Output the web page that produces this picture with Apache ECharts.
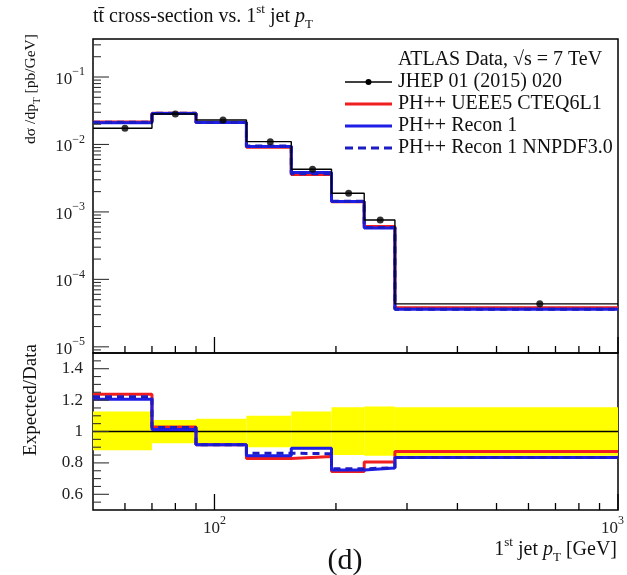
<!DOCTYPE html>
<html><head><meta charset="utf-8">
<script src="https://cdn.jsdelivr.net/npm/echarts@6/dist/echarts.min.js"></script>
<style>html,body{margin:0;padding:0;background:#fff}#c{width:627px;height:575px}</style>
</head><body><div id="c"></div>
<script>
// ---- data ----
const binEdges   = [50, 70, 90, 120, 155, 195, 235, 280, 1000];
const binCenters = [60, 80, 105, 137.5, 175, 215, 257.5, 640];
const dataValues = [0.0174, 0.0283, 0.0231, 0.0110, 0.00428, 0.00189, 0.00076, 4.34e-5];
const redValues  = [0.0215, 0.0291, 0.0211, 0.0091, 0.00360, 0.00141, 0.00061, 3.79e-5];
const blueValues = [0.0210, 0.0287, 0.0211, 0.0093, 0.00383, 0.00143, 0.00058, 3.62e-5];
const dashValues = [0.0213, 0.0290, 0.0211, 0.0095, 0.00367, 0.00144, 0.00059, 3.62e-5];
const redRatio   = [1.237, 1.028, 0.915, 0.828, 0.840, 0.746, 0.805, 0.873];
const blueRatio  = [1.206, 1.013, 0.915, 0.846, 0.894, 0.755, 0.767, 0.835];
const dashRatio  = [1.222, 1.025, 0.915, 0.862, 0.858, 0.762, 0.770, 0.835];
const bandLow    = [0.880, 0.925, 0.920, 0.900, 0.885, 0.850, 0.845, 0.845];
const bandHigh   = [1.127, 1.074, 1.081, 1.100, 1.127, 1.155, 1.159, 1.155];
const seriesNames = ['JHEP 01 (2015) 020', 'PH++ UEEE5 CTEQ6L1', 'PH++ Recon 1', 'PH++ Recon 1 NNPDF3.0'];
// ---- ticks ----
const xTickValues = [60, 70, 80, 90, 100, 200, 300, 400, 500, 600, 700, 800, 900, 1000];
const xLabelValues = [100, 1000];
const yLabelValues = [1e-5, 1e-4, 1e-3, 1e-2, 1e-1];
const yTickValues = [9e-6,
  1e-5,2e-5,3e-5,4e-5,5e-5,6e-5,7e-5,8e-5,9e-5,
  1e-4,2e-4,3e-4,4e-4,5e-4,6e-4,7e-4,8e-4,9e-4,
  1e-3,2e-3,3e-3,4e-3,5e-3,6e-3,7e-3,8e-3,9e-3,
  1e-2,2e-2,3e-2,4e-2,5e-2,6e-2,7e-2,8e-2,9e-2,
  1e-1,2e-1,3e-1];
const ratioTickValues = [0.55,0.6,0.65,0.7,0.75,0.8,0.85,0.9,0.95,1,1.05,1.1,1.15,1.2,1.25,1.3,1.35,1.4,1.45];
const ratioLabelValues = [0.6, 0.8, 1, 1.2, 1.4];

const SERIF = '"Liberation Serif","DejaVu Serif",serif';
const RED = '#f01e1e', BLUE = '#1e1ee6', DBLUE = '#1c1cc4';

function stepData(vals) {
  const out = vals.map((v, i) => [binEdges[i], v]);
  out.push([binEdges[binEdges.length - 1], vals[vals.length - 1]]);
  return out;
}
function isMajorLog(v) { const e = Math.log10(v); return Math.abs(e - Math.round(e)) < 1e-9; }
function isMajorRatio(v) { return Math.abs(v * 5 - Math.round(v * 5)) < 1e-9; }

function xTicks(gi, anchorY) {
  return {
    type: 'custom', xAxisIndex: gi, yAxisIndex: gi, silent: true, z: 20, clip: false,
    data: xTickValues.map(v => [v, anchorY]),
    renderItem: function (params, api) {
      const cs = params.coordSys;
      const v = api.value(0);
      const px = api.coord([v, anchorY])[0];
      const len = isMajorLog(v) ? 16 : 7;
      const yb = cs.y + cs.height;
      return { type: 'line', shape: { x1: px, y1: yb, x2: px, y2: yb - len }, style: { stroke: '#000', lineWidth: 1.3 } };
    }
  };
}
function yTicks(gi, anchorX, vals, majorFn) {
  return {
    type: 'custom', xAxisIndex: gi, yAxisIndex: gi, silent: true, z: 20, clip: false,
    data: vals.map(v => [anchorX, v]),
    renderItem: function (params, api) {
      const cs = params.coordSys;
      const v = api.value(1);
      const py = api.coord([anchorX, v])[1];
      const len = majorFn(v) ? 16 : 8;
      return { type: 'line', shape: { x1: cs.x, y1: py, x2: cs.x + len, y2: py }, style: { stroke: '#333', lineWidth: 1.1 } };
    }
  };
}
function stepLine(name, gi, vals, color, width, dashed, z) {
  return {
    name: name, type: 'line', xAxisIndex: gi, yAxisIndex: gi, step: 'end', showSymbol: false, symbol: 'none',
    data: stepData(vals), z: z,
    lineStyle: { color: color, width: width, type: dashed ? [7, 5] : 'solid' }
  };
}

const supRich = {
  base: { fontFamily: SERIF, fontSize: 17, color: '#222', verticalAlign: 'bottom', lineHeight: 22 },
  sup: { fontFamily: SERIF, fontSize: 12, color: '#222', verticalAlign: 'top', lineHeight: 22 },
  supEnd: { fontFamily: SERIF, fontSize: 12, color: '#222', verticalAlign: 'top', lineHeight: 22, padding: [0, 11, 0, 0] }
};
function expLabel(v) {
  const e = Math.round(Math.log10(v));
  return '{base|10}{sup|' + (e < 0 ? '\u2212' + (-e) : e) + '}';
}
function xExpLabel(v) {
  const e = Math.round(Math.log10(v));
  return '{base|10}{' + (v >= 1000 ? 'supEnd' : 'sup') + '|' + e + '}';
}

const chart = echarts.init(document.getElementById('c'), null, { renderer: 'canvas' });
const commonGrid = { left: 93, width: 525, show: true, borderColor: '#000', borderWidth: 1.5, backgroundColor: 'transparent',
  outerBoundsMode: 'none', containLabel: false };
const option = {
  animation: false,
  grid: [
    Object.assign({ top: 39, height: 314 }, commonGrid),
    Object.assign({ top: 353, height: 157 }, commonGrid)
  ],
  xAxis: [
    { gridIndex: 0, type: 'log', logBase: 10, min: 50, max: 1000,
      axisLine: { show: false }, axisTick: { show: false }, axisLabel: { show: false }, splitLine: { show: false } },
    { gridIndex: 1, type: 'log', logBase: 10, min: 50, max: 1000,
      axisLine: { show: false }, axisTick: { show: false }, splitLine: { show: false },
      axisLabel: { show: true, customValues: xLabelValues, formatter: xExpLabel, rich: supRich, margin: 5, showMaxLabel: true, showMinLabel: true } }
  ],
  yAxis: [
    { gridIndex: 0, type: 'log', logBase: 10, min: 8.1e-6, max: 0.366,
      axisLine: { show: false }, axisTick: { show: false }, splitLine: { show: false },
      axisLabel: { show: true, customValues: yLabelValues, formatter: expLabel, rich: supRich, margin: 8, showMaxLabel: true, showMinLabel: true } },
    { gridIndex: 1, type: 'value', min: 0.5, max: 1.5,
      axisLine: { show: false }, axisTick: { show: false }, splitLine: { show: false },
      axisLabel: { show: true, customValues: ratioLabelValues, margin: 10, fontFamily: SERIF, fontSize: 17, color: '#222',
        formatter: v => String(Math.round(v * 10) / 10) } }
  ],
  series: [
    // ratio band
    { type: 'custom', xAxisIndex: 1, yAxisIndex: 1, silent: true, z: 1,
      data: bandLow.map((lo, i) => [binEdges[i], binEdges[i + 1], lo, bandHigh[i]]),
      encode: { x: [0, 1], y: [2, 3] },
      renderItem: function (params, api) {
        const p0 = api.coord([api.value(0), api.value(3)]);
        const p1 = api.coord([api.value(1), api.value(2)]);
        return { type: 'rect', shape: { x: p0[0], y: p0[1], width: p1[0] - p0[0], height: p1[1] - p0[1] },
          style: { fill: '#ffff00' } };
      } },
    { type: 'line', xAxisIndex: 1, yAxisIndex: 1, showSymbol: false, symbol: 'none', z: 3,
      data: [[binEdges[0], 1], [binEdges[binEdges.length - 1], 1]], lineStyle: { color: '#000', width: 1.3 } },
    stepLine(seriesNames[1], 1, redRatio, RED, 3, false, 4),
    stepLine(seriesNames[2], 1, blueRatio, BLUE, 3, false, 5),
    stepLine(seriesNames[3], 1, dashRatio, DBLUE, 3, true, 6),
    // main panel
    stepLine(seriesNames[1], 0, redValues, RED, 3, false, 4),
    stepLine(seriesNames[2], 0, blueValues, BLUE, 3, false, 5),
    stepLine(seriesNames[3], 0, dashValues, DBLUE, 3, true, 6),
    stepLine(seriesNames[0], 0, dataValues, '#000', 1.4, false, 7),
    { name: seriesNames[0], type: 'scatter', xAxisIndex: 0, yAxisIndex: 0, z: 8, symbol: 'circle', symbolSize: 7,
      itemStyle: { color: '#000' }, data: binCenters.map((c, i) => [c, dataValues[i]]) },
    xTicks(0, 1e-3), xTicks(1, 1),
    yTicks(0, 100, yTickValues, isMajorLog),
    yTicks(1, 100, ratioTickValues, isMajorRatio)
  ],
  graphic: [
    { type: 'text', left: 93, top: 3, style: {
      text: 't{bar|t\u0304} cross-section vs. 1{sup|st} jet {it|p}{sub|T}',
      fontFamily: SERIF, fontSize: 20, fill: '#111',
      rich: { bar: { fontFamily: SERIF, fontSize: 20, fill: '#111' },
              sup: { fontFamily: SERIF, fontSize: 13, fill: '#111', verticalAlign: 'top', lineHeight: 24 },
              it: { fontFamily: SERIF, fontSize: 20, fontStyle: 'italic', fill: '#111' },
              sub: { fontFamily: SERIF, fontSize: 13, fill: '#111', verticalAlign: 'bottom', lineHeight: 28 } } } },
    // y axis titles
    { type: 'text', x: 31, y: 89, rotation: Math.PI / 2, style: {
      text: 'd\u03c3 /dp{sub|T} [pb/GeV]', fontFamily: SERIF, fontSize: 15.5, fill: '#111', align: 'center', verticalAlign: 'middle',
      rich: { sub: { fontFamily: SERIF, fontSize: 11, fill: '#111', verticalAlign: 'bottom', lineHeight: 24 } } } },
    { type: 'text', x: 31, y: 400, rotation: Math.PI / 2, style: {
      text: 'Expected/Data', fontFamily: SERIF, fontSize: 19, fill: '#111', align: 'center', verticalAlign: 'middle' } },
    // x axis title
    { type: 'text', right: 10, top: 536, style: {
      text: '1{sup|st} jet {it|p}{sub|T} [GeV]', fontFamily: SERIF, fontSize: 20, fill: '#111',
      rich: { sup: { fontFamily: SERIF, fontSize: 13, fill: '#111', verticalAlign: 'top', lineHeight: 24 },
              it: { fontFamily: SERIF, fontSize: 20, fontStyle: 'italic', fill: '#111' },
              sub: { fontFamily: SERIF, fontSize: 13, fill: '#111', verticalAlign: 'bottom', lineHeight: 28 } } } },
    { type: 'text', x: 345, y: 561, style: { text: '(d)', fontFamily: SERIF, fontSize: 30, fill: '#111', align: 'center', verticalAlign: 'middle' } },
    // legend
    { type: 'text', x: 398, y: 60, style: { text: 'ATLAS Data, \u221As = 7 TeV', fontFamily: SERIF, fontSize: 20, fill: '#111', verticalAlign: 'middle' } },
    { type: 'line', shape: { x1: 345, y1: 82, x2: 392, y2: 82 }, style: { stroke: '#000', lineWidth: 1.4 } },
    { type: 'circle', shape: { cx: 368.5, cy: 82, r: 3 }, style: { fill: '#000' } },
    { type: 'text', x: 398, y: 82, style: { text: seriesNames[0], fontFamily: SERIF, fontSize: 20, fill: '#111', verticalAlign: 'middle' } },
    { type: 'line', shape: { x1: 345, y1: 104, x2: 392, y2: 104 }, style: { stroke: RED, lineWidth: 3 } },
    { type: 'text', x: 398, y: 104, style: { text: seriesNames[1], fontFamily: SERIF, fontSize: 20, fill: '#111', verticalAlign: 'middle' } },
    { type: 'line', shape: { x1: 345, y1: 126, x2: 392, y2: 126 }, style: { stroke: BLUE, lineWidth: 3 } },
    { type: 'text', x: 398, y: 126, style: { text: seriesNames[2], fontFamily: SERIF, fontSize: 20, fill: '#111', verticalAlign: 'middle' } },
    { type: 'line', shape: { x1: 345, y1: 148, x2: 392, y2: 148 }, style: { stroke: DBLUE, lineWidth: 3, lineDash: [8, 5] } },
    { type: 'text', x: 398, y: 148, style: { text: seriesNames[3], fontFamily: SERIF, fontSize: 20, fill: '#111', verticalAlign: 'middle' } }
  ]
};
chart.setOption(option);
</script></body></html>
